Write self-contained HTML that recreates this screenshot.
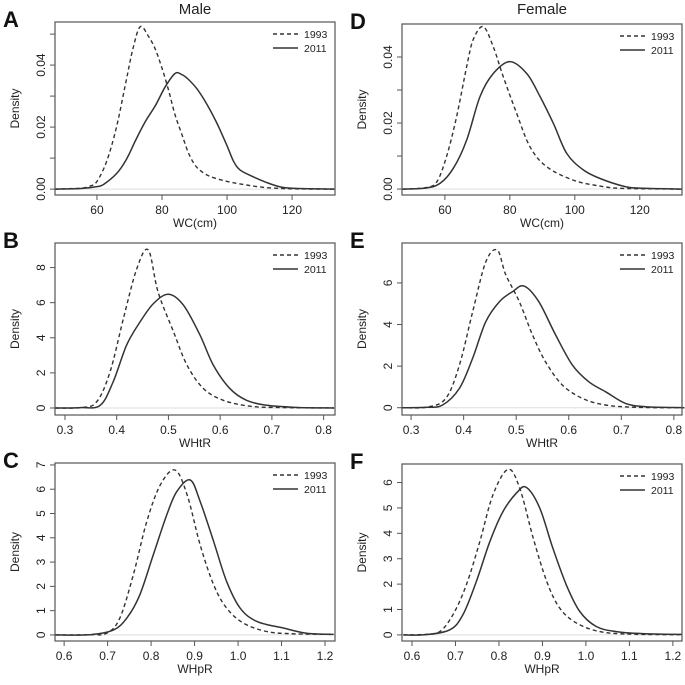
<!DOCTYPE html>
<html><head><meta charset="utf-8"><style>
html,body{margin:0;padding:0;background:#fff;}
svg{display:block;font-family:"Liberation Sans",sans-serif;}
</style></head><body>
<svg id="fig" width="685" height="685" viewBox="0 0 685 685">
<text x="195" y="14" font-size="15" text-anchor="middle" fill="#222">Male</text>
<text x="542" y="14" font-size="15" text-anchor="middle" fill="#222">Female</text>
</svg>
<script>
// Panel A (Male WC)
const aX1993=[47,55,58,60,63,66,69,71,73.3,76,78,80,82,84,86,88,90,92,95,100,105,110,115,120,133];
const aY1993=[0,0.0003,0.001,0.0025,0.009,0.02,0.035,0.045,0.0524,0.049,0.045,0.039,0.032,0.024,0.018,0.012,0.008,0.0058,0.004,0.0025,0.0015,0.0007,0.0003,0.0001,0];
const aX2011=[47,55,60,62,66,69,72,75,78,81,84,86,88,91,94,97,100,102,104,108,112,116,120,133];
const aY2011=[0,0.0002,0.0008,0.0015,0.005,0.0095,0.016,0.022,0.027,0.033,0.0373,0.037,0.0355,0.032,0.027,0.021,0.014,0.009,0.0062,0.004,0.0022,0.0008,0.0003,0];
// Panel B (Male WHtR)
const bX1993=[0.281,0.33,0.361,0.387,0.413,0.439,0.461,0.48,0.51,0.536,0.568,0.606,0.658,0.72,0.82];
const bY1993=[0,0.02,0.34,2.05,5.1,7.95,9.0,6.6,4.33,2.43,1.1,0.44,0.1,0.02,0];
const bX2011=[0.281,0.33,0.368,0.393,0.419,0.445,0.471,0.5,0.529,0.561,0.587,0.619,0.651,0.69,0.75,0.82];
const bY2011=[0,0.02,0.15,1.48,3.57,4.9,5.95,6.48,5.86,4.15,2.43,1.1,0.44,0.15,0.03,0];
// Panel C (Male WHpR)
const cX1993=[0.58,0.66,0.698,0.728,0.759,0.79,0.821,0.855,0.883,0.913,0.944,0.974,1.013,1.066,1.12,1.22];
const cY1993=[0,0.01,0.07,0.69,2.47,4.66,6.17,6.79,5.76,3.7,2.06,1.1,0.48,0.14,0.05,0.02];
const cX2011=[0.58,0.66,0.713,0.744,0.774,0.805,0.836,0.859,0.89,0.913,0.944,0.974,1.005,1.044,1.105,1.158,1.22];
const cY2011=[0,0.01,0.2,0.69,1.65,3.3,4.94,5.9,6.38,5.49,3.84,2.19,1.1,0.55,0.28,0.07,0.02];
// Panel D (Female WC)
const dX1993=[47,54,57.5,60.5,63.6,66.7,68.7,71.8,74.9,78,82.1,86.2,91.3,99.5,107.8,115,133];
const dY1993=[0,0.0004,0.0022,0.0098,0.0219,0.037,0.0452,0.0492,0.0431,0.034,0.0229,0.0128,0.0068,0.0027,0.0009,0.0002,0];
const dX2011=[47,54,58.5,62.6,66.7,70.8,74.9,80,85.2,89.3,93.4,97.5,102.6,107.8,114.9,120,133];
const dY2011=[0,0.0003,0.0017,0.0063,0.0148,0.028,0.035,0.0386,0.035,0.028,0.0199,0.0108,0.0058,0.0032,0.0009,0.0003,0];
// Panel E (Female WHtR)
const eX1993=[0.281,0.33,0.366,0.392,0.417,0.442,0.464,0.48,0.506,0.531,0.556,0.588,0.626,0.67,0.73,0.82];
const eY1993=[0,0.03,0.45,2.05,4.6,7.0,7.58,6.4,5.1,3.5,2.2,1.09,0.45,0.13,0.02,0];
const eX2011=[0.281,0.33,0.36,0.392,0.417,0.442,0.468,0.493,0.515,0.543,0.575,0.607,0.638,0.67,0.708,0.746,0.82];
const eY2011=[0,0.02,0.13,0.93,2.37,4.13,5.1,5.58,5.85,5.1,3.5,2.05,1.25,0.77,0.21,0.05,0];
// Panel F (Female WHpR)
const fX1993=[0.58,0.63,0.664,0.694,0.725,0.756,0.786,0.821,0.848,0.879,0.91,0.94,0.979,1.032,1.1,1.22];
const fY1993=[0,0.02,0.13,0.79,1.97,3.67,5.51,6.52,5.77,3.8,2.1,1.05,0.46,0.13,0.03,0.01];
const fX2011=[0.58,0.63,0.687,0.717,0.748,0.779,0.809,0.84,0.863,0.894,0.924,0.955,0.986,1.024,1.07,1.13,1.22];
const fY2011=[0,0.01,0.2,0.79,2.1,3.67,4.85,5.58,5.81,4.99,3.41,1.97,0.92,0.33,0.13,0.05,0.02];
// tick values
const wcTicks=[60,80,100,120];
const whtrTicks=[0.3,0.4,0.5,0.6,0.7,0.8];
const whprTicks=[0.6,0.7,0.8,0.9,1.0,1.1,1.2];
const wcYTicks=[0,0.01,0.02,0.03,0.04,0.05];
const wcYLabels=["0.00","","0.02","","0.04",""];
const bYTicks=[0,2,4,6,8];
const cYTicks=[0,1,2,3,4,5,6,7];
const eYTicks=[0,2,4,6];
const fYTicks=[0,1,2,3,4,5,6];

const NS="http://www.w3.org/2000/svg";
const svg=document.getElementById('fig');
function mk(tag,attrs,parent){const e=document.createElementNS(NS,tag);for(const k in attrs)e.setAttribute(k,attrs[k]);(parent||svg).appendChild(e);return e;}
function smooth(pts){let d="M"+pts[0][0].toFixed(1)+","+pts[0][1].toFixed(1);
 for(let i=0;i<pts.length-1;i++){const p0=pts[Math.max(0,i-1)],p1=pts[i],p2=pts[i+1],p3=pts[Math.min(pts.length-1,i+2)];
  const c1=[p1[0]+(p2[0]-p0[0])/6,p1[1]+(p2[1]-p0[1])/6],c2=[p2[0]-(p3[0]-p1[0])/6,p2[1]-(p3[1]-p1[1])/6];
  d+=" C"+c1[0].toFixed(1)+","+c1[1].toFixed(1)+" "+c2[0].toFixed(1)+","+c2[1].toFixed(1)+" "+p2[0].toFixed(1)+","+p2[1].toFixed(1);}
 return d;}
function panel(o){
 const g=mk('g',{});
 
 
 const sx=v=>o.L+(v-o.x0)/(o.x1-o.x0)*(o.R-o.L);
 const sy=v=>o.B-(v-o.y0)/(o.y1-o.y0)*(o.B-o.T);
 // zero line
 const z=mk('line',{x1:o.L,x2:o.R,y1:sy(0),y2:sy(0),stroke:'#ddd','stroke-width':1},g);
 
 
 // series
 const s1=mk('path',{d:smooth(o.xa.map((x,i)=>[sx(x),sy(o.ya[i])])),fill:'none',stroke:'#333','stroke-width':1.4,'stroke-dasharray':'4,3'},g);
 
 
 const s2=mk('path',{d:smooth(o.xb.map((x,i)=>[sx(x),sy(o.yb[i])])),fill:'none',stroke:'#333','stroke-width':1.5},g);
 
 
 // box
 const bx=mk('rect',{x:o.L,y:o.T,width:o.R-o.L,height:o.B-o.T,fill:'none',stroke:'#555','stroke-width':1.2},g);
 
 
 // x ticks
 o.xt.forEach(v=>{const x=sx(v);
  mk('line',{x1:x,x2:x,y1:o.B,y2:o.B+5,stroke:'#555','stroke-width':1},g);
  const t=mk('text',{x:x,y:o.B+19,'font-size':12,'text-anchor':'middle',fill:'#222'},g);
  t.textContent=o.xl?o.xl(v):String(v);
  
  });
 // y ticks
 o.yt.forEach((v,i)=>{const y=sy(v);
  mk('line',{x1:o.L-5,x2:o.L,y1:y,y2:y,stroke:'#555','stroke-width':1},g);
  const lab=o.ylab?o.ylab[i]:String(v);
  if(lab){const t=mk('text',{x:o.L-10,y:y,'font-size':12,'text-anchor':'middle',fill:'#222',transform:'rotate(-90 '+(o.L-10)+' '+y+')'},g);
   t.textContent=lab;
   
   }});
 const xt=mk('text',{x:(o.L+o.R)/2,y:o.B+32,'font-size':12,'text-anchor':'middle',fill:'#222'},g);
 xt.textContent=o.xtitle;
 
 
 const yx=o.L-36,yy=(o.T+o.B)/2;
 const yt=mk('text',{x:yx,y:yy,'font-size':12,'text-anchor':'middle',fill:'#222',transform:'rotate(-90 '+yx+' '+yy+')'},g);
 yt.textContent='Density';
 
 
 const lt=mk('text',{x:o.L-52,y:o.T+5,'font-size':22,'font-weight':'bold',fill:'#111'},g);
 lt.textContent=o.id;
 
 
 // legend
 [['1993','4,3',12],['2011',null,26]].forEach(r=>{
  const l=mk('line',{x1:o.R-62,x2:o.R-37,y1:o.T+r[2],y2:o.T+r[2],stroke:'#333','stroke-width':1.4},g);
  if(r[1])l.setAttribute('stroke-dasharray',r[1]);
  
  
  const t=mk('text',{x:o.R-31,y:o.T+r[2]+4,'font-size':10.5,fill:'#222'},g);
  t.textContent=r[0];
  
  });
}
const fmt1=v=>v.toFixed(1);
panel({id:'A',L:55,R:335,T:22,B:195,x0:47.1,x1:133.2,y0:-0.0019,y1:0.0539,xa:aX1993,ya:aY1993,xb:aX2011,yb:aY2011,xt:wcTicks,yt:wcYTicks,ylab:wcYLabels,xtitle:'WC(cm)'});
panel({id:'B',L:55,R:335,T:243,B:415,x0:0.2807,x1:0.822,y0:-0.4,y1:9.4,xa:bX1993,ya:bY1993,xb:bX2011,yb:bY2011,xt:whtrTicks,yt:bYTicks,xl:fmt1,xtitle:'WHtR'});
panel({id:'C',L:55,R:335,T:463,B:641,x0:0.579,x1:1.223,y0:-0.25,y1:7.08,xa:cX1993,ya:cY1993,xb:cX2011,yb:cY2011,xt:whprTicks,yt:cYTicks,xl:fmt1,xtitle:'WHpR'});
panel({id:'D',L:402,R:682,T:24,B:195,x0:46.8,x1:133,y0:-0.0018,y1:0.0500,xa:dX1993,ya:dY1993,xb:dX2011,yb:dY2011,xt:wcTicks,yt:wcYTicks.slice(0,5),ylab:wcYLabels,xtitle:'WC(cm)'});
panel({id:'E',L:402,R:682,T:243,B:415,x0:0.2827,x1:0.8155,y0:-0.35,y1:7.92,xa:eX1993,ya:eY1993,xb:eX2011,yb:eY2011,xt:whtrTicks,yt:eYTicks,xl:fmt1,xtitle:'WHtR'});
panel({id:'F',L:402,R:682,T:464,B:641,x0:0.577,x1:1.221,y0:-0.24,y1:6.73,xa:fX1993,ya:fY1993,xb:fX2011,yb:fY2011,xt:whprTicks,yt:fYTicks,xl:fmt1,xtitle:'WHpR'});
</script>
</body></html>
